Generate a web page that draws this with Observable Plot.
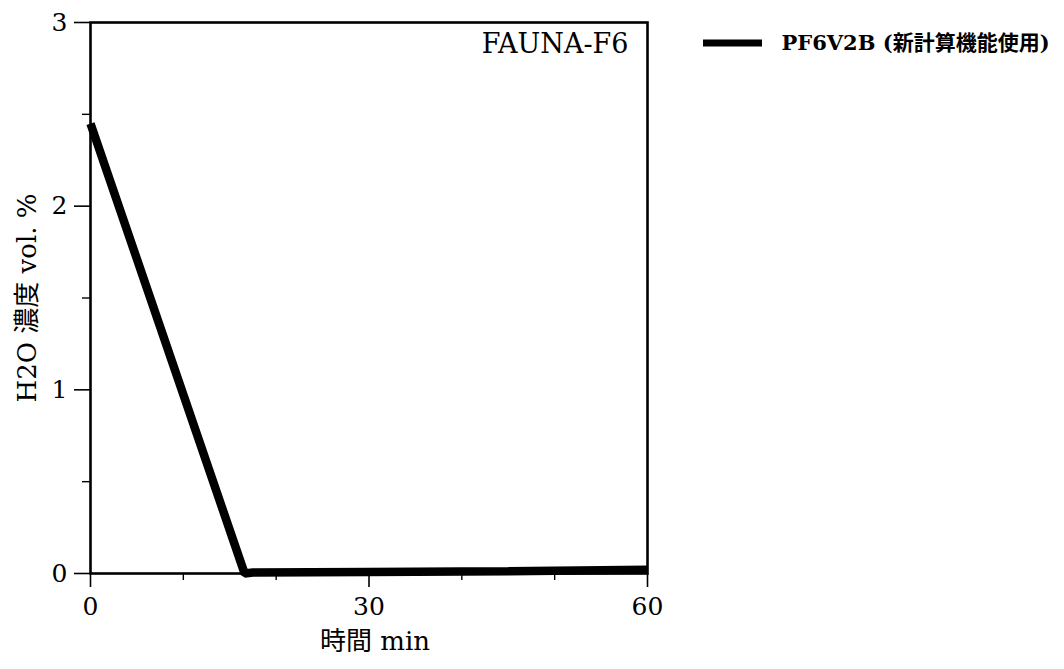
<!DOCTYPE html>
<html>
<head>
<meta charset="utf-8">
<script src="https://cdn.jsdelivr.net/npm/d3@7"></script>
<script src="https://cdn.jsdelivr.net/npm/@observablehq/plot@0.6"></script>
<style>
  body { margin: 0; background: #fff; }
  svg { display: block; }
</style>
</head>
<body>
<div id="chart"></div>
<script>
const timeMin = [0, 16.6, 17.5, 30, 45, 60];
const h2oVol = [2.45, 0.0, 0.005, 0.008, 0.012, 0.02];
const xMajorTicks = [0, 30, 60];
const xMinorTicks = [10, 20, 40, 50];
const yMajorTicks = [0, 1, 2, 3];
const yMinorTicks = [0.5, 1.5, 2.5];
const seriesName = "PF6V2B (新計算機能使用)";
const panelLabel = "FAUNA-F6";
const xLabel = "時間 min";
const yLabel = "H2O 濃度 vol. %";

const data = timeMin.map((t, i) => ({t, v: h2oVol[i]}));
const serif = "'DejaVu Serif', 'Noto Sans CJK JP', serif";

const plot = Plot.plot({
  width: 1064,
  height: 669,
  marginLeft: 90,
  marginRight: 417,
  marginTop: 22,
  marginBottom: 96,
  style: {fontFamily: serif, color: "#000", background: "#fff"},
  x: {domain: [0, 60]},
  y: {domain: [0, 3]},
  marks: [
    Plot.axisX({ticks: xMajorTicks, tickSize: 14, tickPadding: 10, fontSize: 25, tickFormat: d => String(d), label: null, strokeWidth: 1.6}),
    Plot.axisX({ticks: xMinorTicks, tickSize: 7, tickFormat: () => "", label: null, strokeWidth: 1.4}),
    Plot.axisY({ticks: yMajorTicks, tickSize: 16, tickPadding: 7, fontSize: 25, tickFormat: d => String(d), label: null, strokeWidth: 1.6}),
    Plot.axisY({ticks: yMinorTicks, tickSize: 8, tickFormat: () => "", label: null, strokeWidth: 1.4}),
    Plot.frame({stroke: "#000", strokeWidth: 2.6}),
    Plot.line(data, {x: "t", y: "v", stroke: "#000", strokeWidth: 8.5, strokeLinejoin: "miter", strokeLinecap: "butt"}),
    Plot.text([panelLabel], {frameAnchor: "top-right", dx: -19, dy: 22, textAnchor: "end", lineAnchor: "middle", fontSize: 27, fill: "#000"}),
    Plot.text([xLabel], {frameAnchor: "bottom", dx: 6, dy: 76, textAnchor: "middle", fontSize: 26, fill: "#000"}),
    Plot.text([yLabel], {frameAnchor: "left", dx: -63, rotate: -90, textAnchor: "middle", fontSize: 26, fill: "#000"}),
    Plot.text([seriesName], {frameAnchor: "top-right", dx: 134, dy: 21, textAnchor: "start", lineAnchor: "middle", fontSize: 21, fontWeight: "bold", fill: "#000"})
  ]
});

// legend swatch drawn next to legend text
const svg = d3.select(plot);
svg.append("line")
  .attr("x1", 703).attr("x2", 762)
  .attr("y1", 43).attr("y2", 43)
  .attr("stroke", "#000").attr("stroke-width", 7);

document.getElementById("chart").appendChild(plot);
</script>
</body>
</html>
